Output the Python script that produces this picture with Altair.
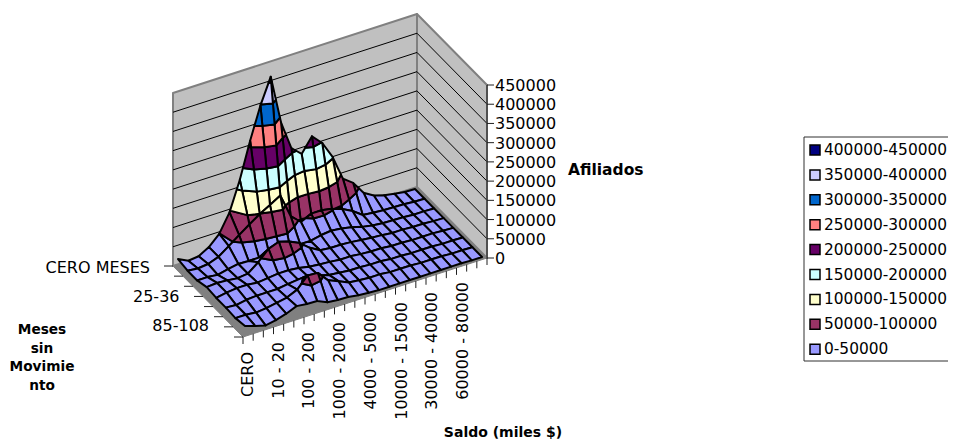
import altair as alt

# ---------- values (thousands of afiliados), rows = Meses sin Movimiento, columns = Saldo ----------
row0 = [18,5,8,23,49,96,172,265,348,414,286,211,187,224,198,153,88,68,34,18,10,5,1,0]
row1 = [13,10,13,23,42,62,81,99,114,130,68,44,57,57,52,43,29,10,7,5,4,3,1,0]
row2 = [13,13,10,16,21,20,20,20,20,20,20,20,26,29,26,21,13,8,5,4,3,1,1,0]
row3 = [21,23,21,18,21,42,68,78,70,57,36,21,18,18,16,13,10,8,5,5,3,3,1,0]
row4 = [18,23,26,26,23,26,29,29,26,21,18,16,13,13,10,8,8,5,5,3,3,3,1,0]
row5 = [18,16,21,23,23,23,27,30,29,23,16,13,10,10,8,8,5,5,3,3,3,1,1,0]
row6 = [16,16,13,16,21,26,38,66,64,36,25,13,10,8,8,5,5,5,3,3,3,1,1,0]
row7 = [21,12,5,10,18,29,26,25,13,10,9,5,3,1,1,1,1,1,1,1,1,1,0,0]
rows = [row0,row1,row2,row3,row4,row5,row6,row7]

z_ticks = [0,50000,100000,150000,200000,250000,300000,350000,400000,450000]
band_names = ["0-50000","50000-100000","100000-150000","150000-200000","200000-250000",
              "250000-300000","300000-350000","350000-400000","400000-450000"]
band_colors = ["#9999FF","#993366","#FFFFCC","#CCFFFF","#660066","#FF8080","#0066CC","#CCCCFF","#000080"]
saldo_labels = ["CERO","10 - 20","100 - 200","1000 - 2000","4000 - 5000","10000 - 15000","30000 - 40000","60000 - 80000"]
meses_labels = ["CERO MESES","25-36","85-108"]

# ---------- oblique projection frame (chart pixels) ----------
OFF = 8
W, H = 940, 431
K = 173/450            # px per thousand
FL = (173-OFF,266-OFF); FF = (243-OFF,337-OFF); FR = (487-OFF,258-OFF); FB = (417-OFF,187-OFF)
SL = (178-OFF,266-OFF); SB = (415-OFF,189-OFF); SR = (482-OFF,257-OFF)
NC, NR = len(row0), len(rows)
ux, uy = (SB[0]-SL[0])/(NC-1), (SB[1]-SL[1])/(NC-1)
vx, vy = (SR[0]-SB[0])/(NR-1), (SR[1]-SB[1])/(NR-1)

def proj(c,r,v):
    return [SL[0]+c*ux+r*vx, SL[1]+c*uy+r*vy-v*K]

def up(p,v):
    return [p[0], p[1]-v*K]

def poly(pts,fill,stroke,sw):
    return {"type":"Feature","geometry":{"type":"Polygon","coordinates":[[list(p) for p in pts]+[list(pts[0])]]},
            "properties":{"fill":fill,"stroke":stroke,"sw":sw}}

def line(pts,stroke,sw):
    return {"type":"Feature","geometry":{"type":"LineString","coordinates":[list(p) for p in pts]},
            "properties":{"fill":"transparent","stroke":stroke,"sw":sw}}

def clip(pts,level,keep_above):
    out=[]
    n=len(pts)
    for i in range(n):
        a,b=pts[i],pts[(i+1)%n]
        ina=(a[2]>=level) if keep_above else (a[2]<=level)
        inb=(b[2]>=level) if keep_above else (b[2]<=level)
        if ina: out.append(a)
        if ina!=inb:
            t=(level-a[2])/(b[2]-a[2])
            out.append((a[0]+t*(b[0]-a[0]),a[1]+t*(b[1]-a[1]),level))
    return out

feats=[]
TOP=450
GR="#808080"
feats.append(poly([FL,FB,up(FB,TOP),up(FL,TOP)],"#C0C0C0",GR,2))
feats.append(poly([FB,FR,up(FR,TOP),up(FB,TOP)],"#C0C0C0",GR,2))
for t in z_ticks[1:-1]:
    v=t/1000
    feats.append(line([up(FL,v),up(FB,v),up(FR,v)],"#000000",1))
feats.append(poly([FL,FB,FR,FF],GR,GR,1))

levels=[t/1000 for t in z_ticks]
for r in range(NR-1):
    for c in range(NC-2,-1,-1):
        q=[(c,r,rows[r][c]),(c+1,r,rows[r][c+1]),(c+1,r+1,rows[r+1][c+1]),(c,r+1,rows[r+1][c])]
        for b in range(len(band_colors)):
            p=clip(clip(q,levels[b],True),levels[b+1],False)
            if len(p)>=3:
                feats.append(poly([proj(*x) for x in p],band_colors[b],"#000000",2))

# axis ticks
feats.append(line([FR,up(FR,TOP)],"#404040",1.5))
for t in z_ticks:
    p=up(FR,t/1000)
    feats.append(line([p,[p[0]+7,p[1]]],"#202020",1))
for i in range(25):
    p=[FF[0]+(FR[0]-FF[0])*i/24, FF[1]+(FR[1]-FF[1])*i/24]
    feats.append(line([p,[p[0],p[1]+7]],"#202020",1))
for i in range(8):
    p=[FF[0]+(FL[0]-FF[0])*i/7, FF[1]+(FL[1]-FF[1])*i/7]
    feats.append(line([p,[p[0]-9,p[1]]],"#202020",1))

xs=alt.Scale(domain=[0,W],range=[0,W])
ys=alt.Scale(domain=[0,H],range=[0,H])
X=lambda f="x": alt.X(f"{f}:Q",scale=xs,axis=None)
Y=lambda f="y": alt.Y(f"{f}:Q",scale=ys,axis=None)
FONT="DejaVu Sans"

geo=alt.Chart(alt.Data(values=feats)).mark_geoshape(strokeJoin="round").encode(
    fill=alt.Fill("properties.fill:N",scale=None),
    stroke=alt.Stroke("properties.stroke:N",scale=None),
    strokeWidth=alt.StrokeWidth("properties.sw:Q",scale=None),
).project(type="identity",scale=1,translate=[0,0])

def text_layer(rows_,**kw):
    return alt.Chart(alt.Data(values=rows_)).mark_text(font=FONT,**kw).encode(x=X(),y=Y(),text="t:N")

z_txt=[{"x":495-OFF,"y":up(FR,t/1000)[1]+1,"t":str(t)} for t in z_ticks]
m_txt=[{"x":150-OFF+29.5*i,"y":268-OFF+29*i,"t":s} for i,s in enumerate(meses_labels)]
s_txt=[{"x":248-OFF+30.7*i,"y":352-OFF-10*i,"t":s} for i,s in enumerate(saldo_labels)]

LEG = 10  # legend shifted left so that its text stays inside the page
legend_box=alt.Chart(alt.Data(values=[{"x":814-OFF-LEG,"x2":975,"y":137-OFF,"y2":361-OFF}])).mark_rect(
    fill="white",stroke="#303030",strokeWidth=1).encode(x=X(),x2="x2:Q",y=Y(),y2="y2:Q")
leg_rows=[{"x":825-OFF-LEG,"tx":834-OFF-LEG,"y":150-OFF+24.9*i,"t":band_names[8-i],"c":band_colors[8-i]} for i in range(9)]
leg_sw=alt.Chart(alt.Data(values=leg_rows)).mark_square(size=100,opacity=1,stroke="#000000",strokeWidth=1.5).encode(
    x=X(),y=Y(),fill=alt.Fill("c:N",scale=None))
leg_tx=alt.Chart(alt.Data(values=leg_rows)).mark_text(font=FONT,fontSize=15.4,align="left",baseline="middle",color="#000000").encode(
    x=X("tx"),y=Y(),text="t:N")

meses_title=[{"x":42-OFF,"y":y-OFF,"t":s} for s,y in zip(["Meses","sin","Movimie","nto"],[330,349,367,386])]

chart=alt.layer(
    geo,
    text_layer(z_txt,fontSize=16,align="left",baseline="middle",color="#000000"),
    text_layer(m_txt,fontSize=16,align="right",baseline="middle",color="#000000"),
    text_layer(s_txt,fontSize=16,align="right",baseline="middle",angle=270,color="#000000"),
    text_layer([{"x":568-OFF,"y":170-OFF,"t":"Afiliados"}],fontSize=15.5,fontWeight="bold",align="left",baseline="middle",color="#000000"),
    text_layer(meses_title,fontSize=13.7,fontWeight="bold",align="center",baseline="middle",color="#000000"),
    text_layer([{"x":503-OFF,"y":433-OFF,"t":"Saldo (miles $)"}],fontSize=14,fontWeight="bold",align="center",baseline="middle",color="#000000"),
    legend_box,leg_sw,leg_tx,
).resolve_scale(x="shared",y="shared").properties(
    width=W,height=H,padding=0,autosize=alt.AutoSizeParams(type="none"),background="white"
).configure_view(stroke=None)

chart.save("out.html", embed_options={"renderer": "svg", "actions": False})
